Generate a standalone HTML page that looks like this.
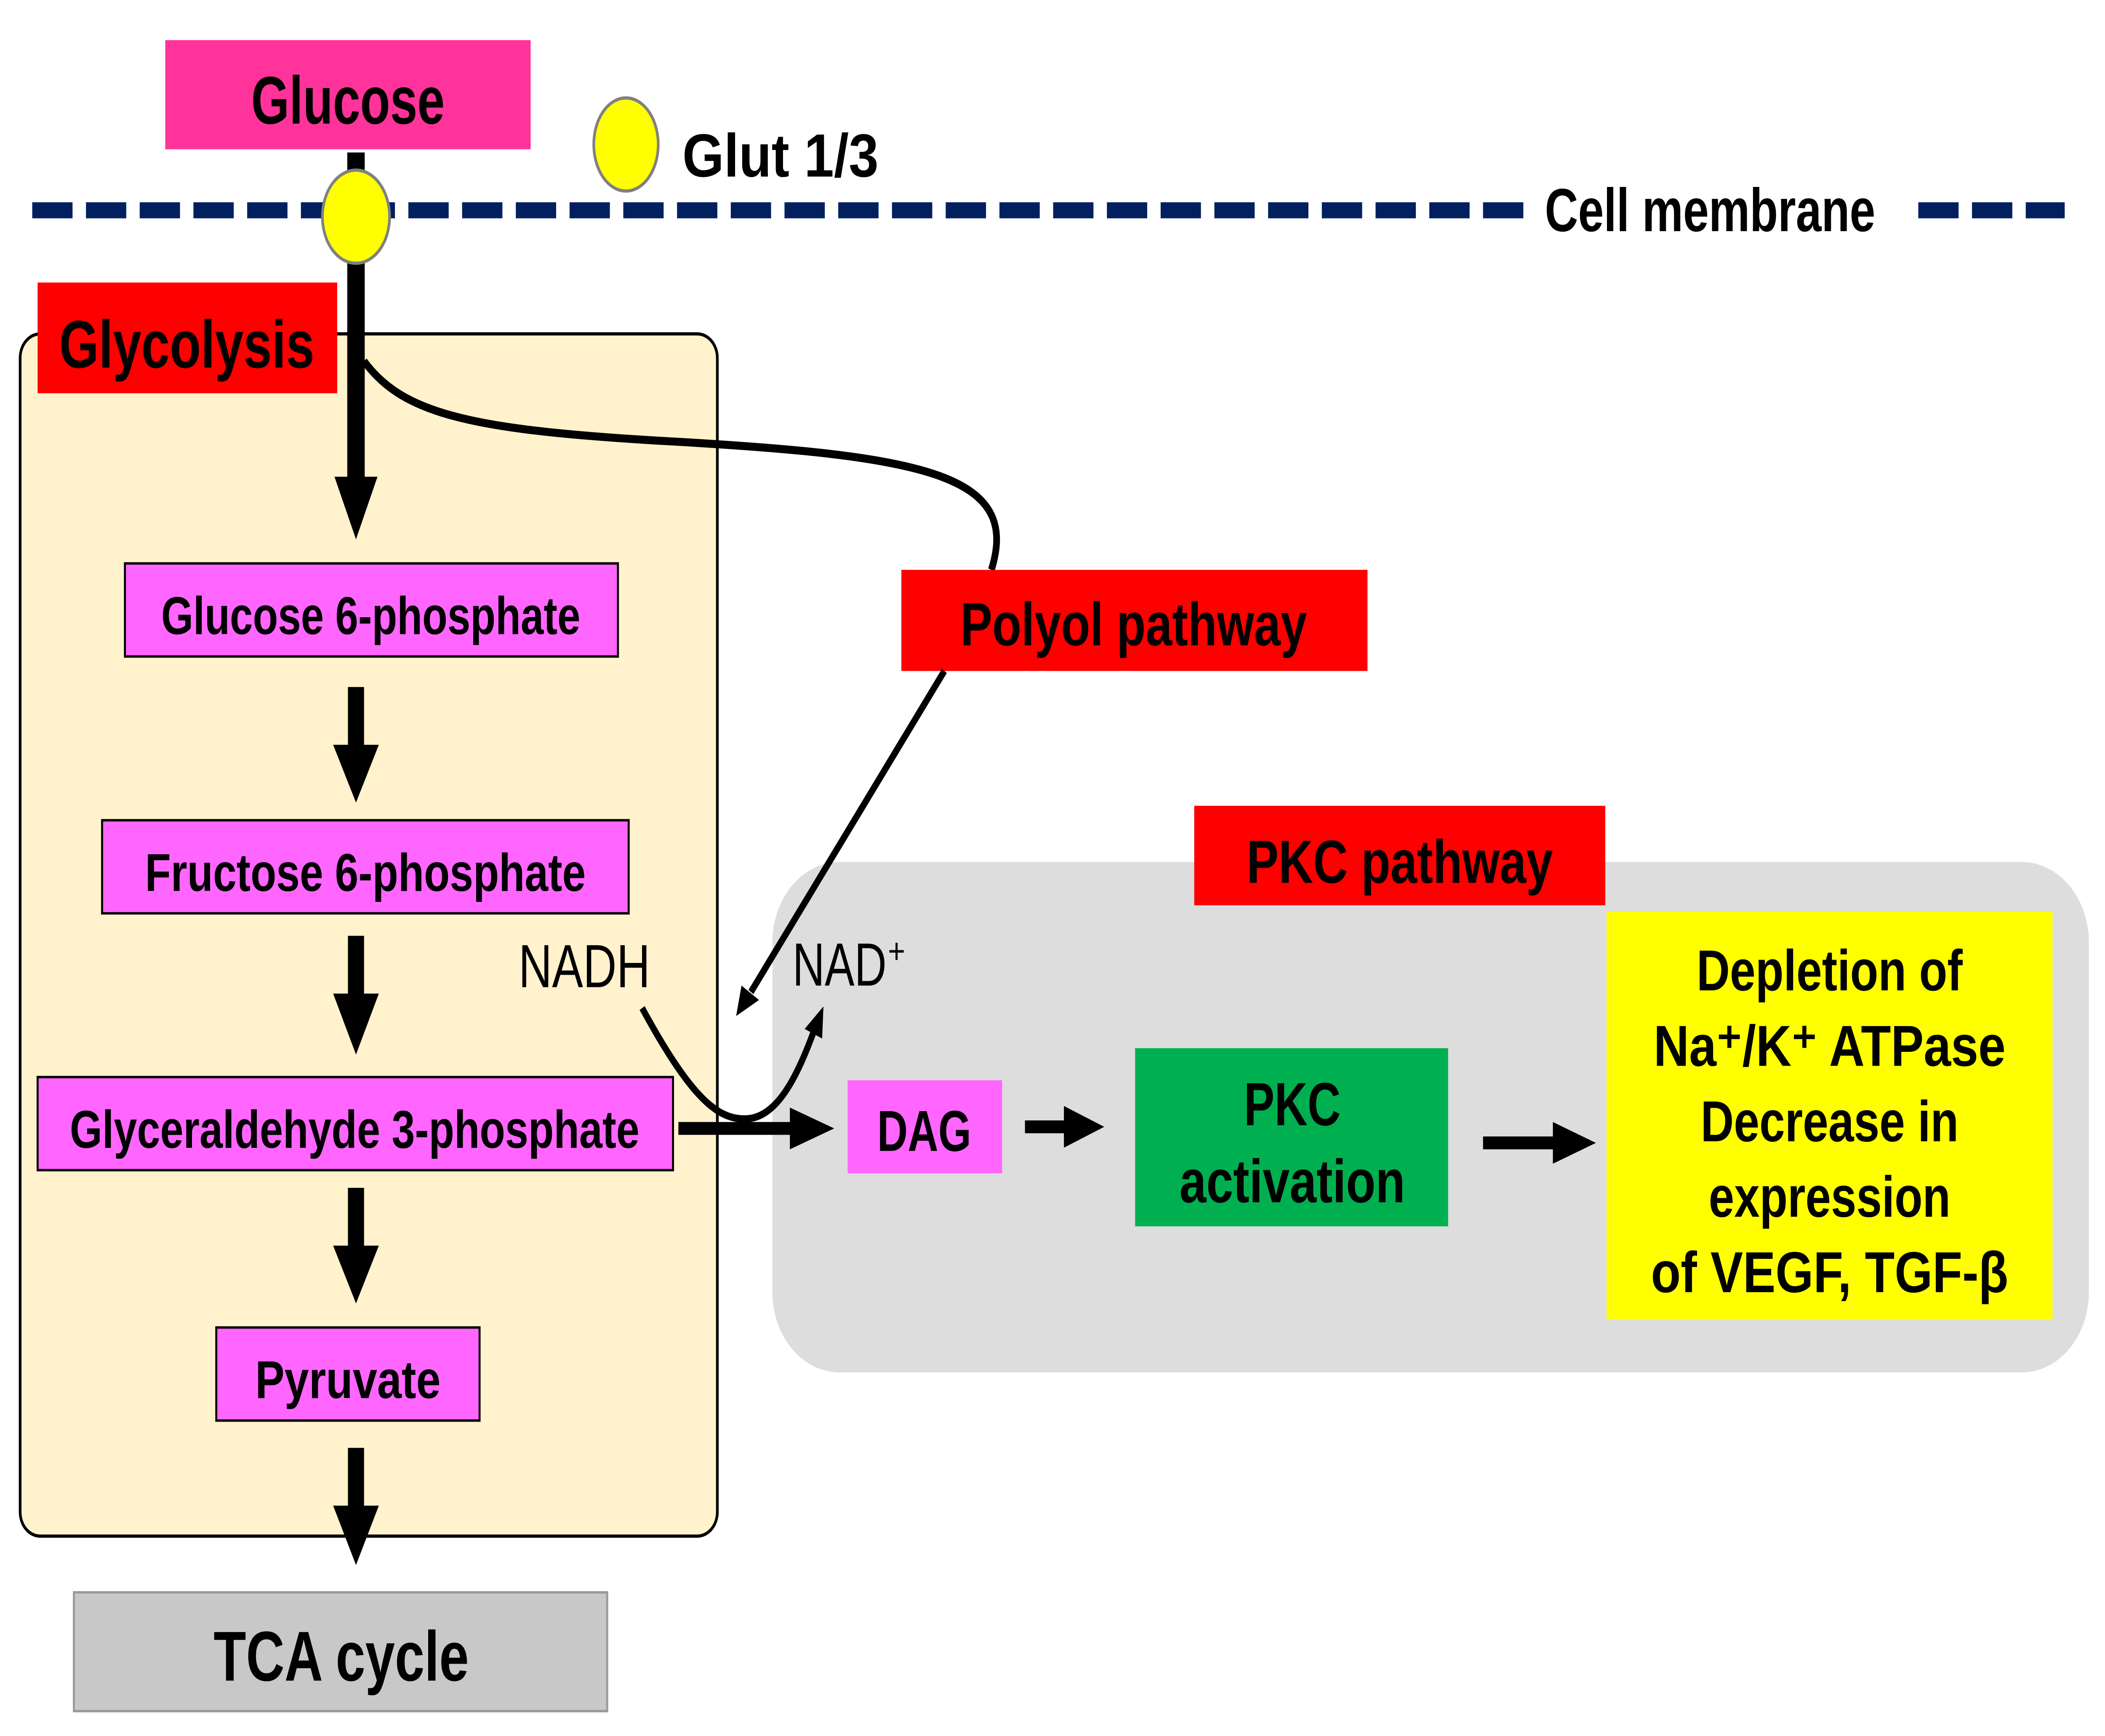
<!DOCTYPE html>
<html><head><meta charset="utf-8"><style>html,body{margin:0;padding:0;background:#fff;overflow:hidden;width:100%;height:100%}svg{display:block;width:100vw;height:100vh}</style></head>
<body>
<svg viewBox="0 0 1567 1081.5" preserveAspectRatio="none" xmlns="http://www.w3.org/2000/svg" font-family="'Liberation Sans','Noto Sans CJK JP',sans-serif" font-weight="bold">
<rect width="1567" height="1081.5" fill="#fff"/>
<rect x="575" y="537" width="980" height="318" rx="50" fill="#DDDDDD"/>
<rect x="15" y="208" width="519" height="749" rx="15" fill="#FFF2CC" stroke="#000" stroke-width="2"/>
<line x1="24" y1="131" x2="1135" y2="131" stroke="#03205E" stroke-width="10" stroke-dasharray="30,10"/>
<line x1="1428" y1="131" x2="1537" y2="131" stroke="#03205E" stroke-width="10" stroke-dasharray="30,10"/>
<text x="1150" y="144" font-size="38" textLength="246" lengthAdjust="spacingAndGlyphs">Cell membrane</text>
<rect x="123" y="25" width="272" height="68" fill="#FF3399"/>
<text x="259" y="77" font-size="42" text-anchor="middle" textLength="144" lengthAdjust="spacingAndGlyphs">Glucose</text>
<ellipse cx="466" cy="90" rx="24" ry="29" fill="#FFFF00" stroke="#808080" stroke-width="2"/>
<text x="508" y="110" font-size="38" textLength="146" lengthAdjust="spacingAndGlyphs">Glut 1/3</text>
<line x1="265" y1="95" x2="265" y2="300" stroke="#000" stroke-width="13"/>
<polygon points="249,297 281,297 265,336" fill="#000"/>
<ellipse cx="265" cy="135" rx="25" ry="29" fill="#FFFF00" stroke="#808080" stroke-width="2"/>
<rect x="28" y="176" width="223" height="69" fill="#FF0000"/>
<text x="139" y="229" font-size="42" text-anchor="middle" textLength="190" lengthAdjust="spacingAndGlyphs">Glycolysis</text>
<path d="M271,225 C300,258 350,268 500,275 C690,284 760,296 738,355" fill="none" stroke="#000" stroke-width="5"/>
<rect x="93" y="351" width="367" height="58" fill="#FF66FF" stroke="#000" stroke-width="1.5"/>
<text x="276" y="395" font-size="33" text-anchor="middle" textLength="312" lengthAdjust="spacingAndGlyphs">Glucose 6-phosphate</text>
<rect x="76" y="511" width="392" height="58" fill="#FF66FF" stroke="#000" stroke-width="1.5"/>
<text x="272" y="555" font-size="33" text-anchor="middle" textLength="328" lengthAdjust="spacingAndGlyphs">Fructose 6-phosphate</text>
<rect x="28" y="671" width="473" height="58" fill="#FF66FF" stroke="#000" stroke-width="1.5"/>
<text x="264" y="715" font-size="33" text-anchor="middle" textLength="424" lengthAdjust="spacingAndGlyphs">Glyceraldehyde 3-phosphate</text>
<rect x="161" y="827" width="196" height="58" fill="#FF66FF" stroke="#000" stroke-width="1.5"/>
<text x="259" y="871" font-size="33" text-anchor="middle" textLength="138" lengthAdjust="spacingAndGlyphs">Pyruvate</text>
<rect x="55" y="992" width="397" height="74" fill="#C8C8C8" stroke="#999" stroke-width="1.5"/>
<text x="254" y="1047" font-size="44" text-anchor="middle" textLength="190" lengthAdjust="spacingAndGlyphs">TCA cycle</text>
<g fill="#000">
<rect x="259" y="428" width="12" height="38"/><polygon points="248,464 282,464 265,500"/>
<rect x="259" y="583" width="12" height="38"/><polygon points="248,619 282,619 265,657"/>
<rect x="259" y="740" width="12" height="38"/><polygon points="248,776 282,776 265,812"/>
<rect x="259" y="902" width="12" height="38"/><polygon points="248,938 282,938 265,975"/>
</g>
<rect x="671" y="355" width="347" height="63" fill="#FF0000"/>
<text x="844" y="402" font-size="38" text-anchor="middle" textLength="258" lengthAdjust="spacingAndGlyphs">Polyol pathway</text>
<line x1="703" y1="418" x2="559" y2="618" stroke="#000" stroke-width="4.5"/>
<polygon points="548,633 565,623 552,614" fill="#000"/>
<rect x="889" y="502" width="306" height="62" fill="#FF0000"/>
<text x="1042" y="550" font-size="38" text-anchor="middle" textLength="228" lengthAdjust="spacingAndGlyphs">PKC pathway</text>
<text x="386" y="615" font-size="38" font-weight="normal" textLength="98" lengthAdjust="spacingAndGlyphs">NADH</text>
<text x="590" y="614" font-size="38" font-weight="normal" textLength="70" lengthAdjust="spacingAndGlyphs">NAD</text>
<text x="661" y="600" font-size="22" font-weight="normal">+</text>
<path d="M478,628 C515,685 535,698 556,697 C578,696 593,672 606,642" fill="none" stroke="#000" stroke-width="4.5"/>
<polygon points="613,627 612,647 599,641" fill="#000"/>
<line x1="505" y1="703" x2="592" y2="703" stroke="#000" stroke-width="8"/>
<polygon points="588,690 621,703 588,716" fill="#000"/>
<rect x="631" y="673" width="115" height="58" fill="#FF66FF"/>
<text x="688" y="717" font-size="36" text-anchor="middle" textLength="70" lengthAdjust="spacingAndGlyphs">DAG</text>
<line x1="763" y1="702" x2="796" y2="702" stroke="#000" stroke-width="8"/>
<polygon points="792,689 822,702 792,715" fill="#000"/>
<rect x="845" y="653" width="233" height="111" fill="#00B050"/>
<text x="962" y="701" font-size="38" text-anchor="middle" textLength="72" lengthAdjust="spacingAndGlyphs">PKC</text>
<text x="962" y="749" font-size="38" text-anchor="middle" textLength="168" lengthAdjust="spacingAndGlyphs">activation</text>
<line x1="1104" y1="712" x2="1160" y2="712" stroke="#000" stroke-width="8"/>
<polygon points="1156,699 1188,712 1156,725" fill="#000"/>
<rect x="1196" y="568" width="332" height="254" fill="#FFFF00"/>
<g font-size="36" text-anchor="middle">
<text x="1362" y="617" textLength="198" lengthAdjust="spacingAndGlyphs">Depletion of</text>
<text x="1362" y="664" textLength="262" lengthAdjust="spacingAndGlyphs">Na⁺/K⁺ ATPase</text>
<text x="1362" y="711" textLength="192" lengthAdjust="spacingAndGlyphs">Decrease in</text>
<text x="1362" y="758" textLength="180" lengthAdjust="spacingAndGlyphs">expression</text>
<text x="1362" y="805" textLength="266" lengthAdjust="spacingAndGlyphs">of VEGF, TGF-β</text>
</g>
</svg>
</body></html>
